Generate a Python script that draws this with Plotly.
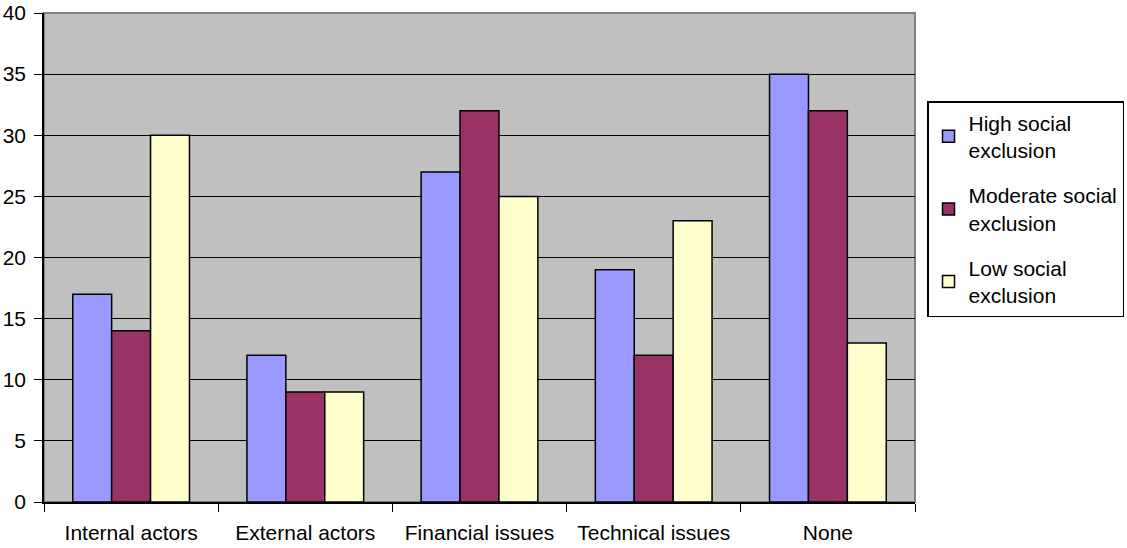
import plotly.graph_objects as go

categories = ["Internal actors", "External actors", "Financial issues", "Technical issues", "None"]
series_names = ["High social<br>exclusion", "Moderate social<br>exclusion", "Low social<br>exclusion"]
high = [17, 12, 27, 19, 35]
moderate = [14, 9, 32, 12, 32]
low = [30, 9, 25, 23, 13]
colors = ["#9999FF", "#993366", "#FFFFCC"]
y_ticks = [0, 5, 10, 15, 20, 25, 30, 35, 40]

fig = go.Figure()
for i, (name, vals, c) in enumerate(zip(series_names, [high, moderate, low], colors)):
    fig.add_trace(go.Bar(x=categories, y=vals, name=name, legendgroup="g%d" % i,
                         marker=dict(color=c, line=dict(color="black", width=1.5))))

FAM = "Liberation Sans, Arial, sans-serif"
fig.update_layout(
    width=1127, height=548,
    margin=dict(l=44, r=212, t=13, b=46, autoexpand=False),
    paper_bgcolor="white", plot_bgcolor="#C0C0C0",
    barmode="group", bargap=0.33, bargroupgap=0,
    font=dict(family=FAM, size=21, color="black"),
    showlegend=True,
    legend=dict(x=1.0138, y=0.820, xanchor="left", yanchor="top",
                bordercolor="black", borderwidth=1.5, bgcolor="white",
                font=dict(family=FAM, size=21, color="black"),
                tracegroupgap=15, itemwidth=30),
    xaxis=dict(type="category", tickson="boundaries", ticks="outside", ticklen=8, tickcolor="black",
               showline=True, linecolor="black", linewidth=1.5, showgrid=False, automargin=False,
               ticklabelstandoff=11,
               tickfont=dict(family=FAM, size=21, color="black")),
    yaxis=dict(range=[0, 40], tickvals=y_ticks, ticks="outside", ticklen=8, tickcolor="black",
               showline=True, linecolor="black", linewidth=1.5, showgrid=True, gridcolor="black",
               gridwidth=1, zeroline=False, automargin=False, ticklabelstandoff=4,
               tickfont=dict(family=FAM, size=21, color="black")),
    shapes=[dict(type="rect", xref="paper", yref="paper", x0=0, x1=1, y0=0, y1=1,
                 line=dict(color="#808080", width=2), layer="below")],
)
fig.write_html("out.html", config={"displayModeBar": False},
               post_script="document.body.style.margin='0';document.body.style.overflow='hidden';")
